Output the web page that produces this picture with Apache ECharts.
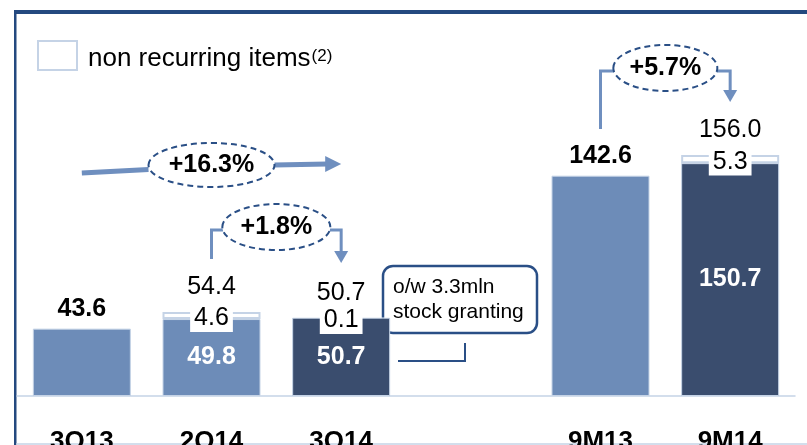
<!DOCTYPE html>
<html>
<head>
<meta charset="utf-8">
<script src="https://cdn.jsdelivr.net/npm/echarts@6/dist/echarts.min.js"></script>
<style>
  html, body { margin: 0; padding: 0; background: #fff; }
  #chart { width: 807px; height: 445px; }
</style>
</head>
<body>
<div id="chart"></div>
<script>
// data
const categories = ['3Q13', '2Q14', '3Q14', '', '9M13', '9M14'];
const recurring = [43.6, 49.8, 50.7, null, 142.6, 150.7];
const nonRecurring = [null, 4.6, 0.1, null, null, 5.3];
const totals = [43.6, 54.4, 50.7, null, 142.6, 156.0];
const growthLabels = ['+16.3%', '+1.8%', '+5.7%'];
const calloutLines = ['o/w 3.3mln', 'stock granting'];
const currentPeriods = ['3Q14', '9M14'];

const FONT = '"Liberation Sans", Arial, sans-serif';
const LIGHT = '#6d8cb8';
const DARK = '#3a4d6e';
const PALE = '#c5d3e6';
const NAVY = '#2a4f86';
const ARROW = '#6f8fbf';

const chart = echarts.init(document.getElementById('chart'));

const recurringData = recurring.map((v, i) => ({
  value: v,
  itemStyle: { color: currentPeriods.includes(categories[i]) ? DARK : LIGHT },
  label: { show: nonRecurring[i] != null }
}));

const nonRecurringData = nonRecurring.map(v => ({
  value: v,
  itemStyle: { borderWidth: v != null && v >= 1 ? 2 : 0 }
}));

const totalsData = totals.map((v, i) => {
  const hasNr = nonRecurring[i] != null;
  return {
    value: v,
    label: {
      fontWeight: hasNr ? 'normal' : 'bold',
      distance: hasNr ? 12 : 7
    }
  };
});

chart.setOption({
  animation: false,
  textStyle: { fontFamily: FONT },
  grid: { left: 17, right: 12, top: 87, bottom: 49, containLabel: false, outerBoundsMode: 'none' },
  legend: {
    left: 37,
    top: 40,
    padding: 0,
    itemWidth: 39,
    itemHeight: 29,
    itemGap: 0,
    icon: 'rect',
    data: ['non recurring items'],
    itemStyle: { color: '#fff', borderColor: PALE, borderWidth: 2 },
    formatter: name => '{a|' + name + '}{s|(2)}',
    textStyle: {
      padding: [6, 0, 0, 6],
      rich: {
        a: { fontSize: 26, color: '#000', fontFamily: FONT },
        s: { fontSize: 17, color: '#000', fontFamily: FONT, verticalAlign: 'top', padding: [2, 0, 0, 1] }
      }
    }
  },
  xAxis: {
    type: 'category',
    data: categories,
    axisLine: { lineStyle: { color: PALE, width: 1.5 } },
    axisTick: { show: false },
    axisLabel: { margin: 33, fontSize: 26, fontWeight: 'bold', color: '#000', fontFamily: FONT }
  },
  yAxis: { type: 'value', min: 0, max: 200, show: false },
  series: [
    {
      name: 'recurring',
      type: 'bar',
      stack: 'cost',
      barWidth: 98,
      data: recurringData,
      itemStyle: { borderColor: PALE, borderWidth: 1 },
      label: {
        position: 'inside',
        color: '#fff',
        fontSize: 25,
        fontWeight: 'bold',
        fontFamily: FONT
      }
    },
    {
      name: 'non recurring items',
      type: 'bar',
      stack: 'cost',
      barWidth: 98,
      data: nonRecurringData,
      itemStyle: { color: '#fff', borderColor: PALE, borderWidth: 2 },
      label: {
        show: true,
        position: 'inside',
        offset: [0, 3],
        color: '#000',
        fontSize: 25,
        fontFamily: FONT,
        backgroundColor: '#fff',
        padding: [1, 4]
      }
    },
    {
      name: 'total',
      type: 'scatter',
      data: totalsData,
      symbolSize: 1,
      itemStyle: { color: 'rgba(0,0,0,0)', opacity: 1 },
      z: 5,
      label: {
        show: true,
        position: 'top',
        color: '#000',
        fontSize: 25,
        fontFamily: FONT,
        formatter: p => p.value.toFixed(1)
      }
    }
  ]
});

// annotations placed from the category positions
const cx = i => chart.convertToPixel({ xAxisIndex: 0 }, i);

function ellipse(x, y, rx, ry, text) {
  return [
    {
      type: 'ellipse',
      shape: { cx: x, cy: y, rx: rx, ry: ry },
      style: { fill: '#fff', stroke: NAVY, lineWidth: 2, lineDash: [6, 4] }
    },
    {
      type: 'text',
      x: x, y: y,
      style: {
        text: text, fill: '#000', font: 'bold 25px ' + FONT,
        align: 'center', verticalAlign: 'middle'
      }
    }
  ];
}

function downArrow(x, y) {
  return {
    type: 'polygon',
    shape: { points: [[x - 7, y - 12], [x + 7, y - 12], [x, y]] },
    style: { fill: ARROW }
  };
}

function bracket(xa, xb, level, startY, tipY, rx, text) {
  const mid = (xa + xb) / 2;
  return [
    {
      type: 'polyline',
      shape: { points: [[xa, startY], [xa, level], [mid - rx + 1, level]] },
      style: { stroke: ARROW, lineWidth: 3, fill: null }
    },
    {
      type: 'polyline',
      shape: { points: [[mid + rx - 1, level], [xb, level], [xb, tipY - 11]] },
      style: { stroke: ARROW, lineWidth: 3, fill: null }
    },
    downArrow(xb, tipY)
  ].concat(ellipse(mid, level - 3, rx, 23, text));
}

const x0 = cx(0), x1 = cx(1), x2 = cx(2), x4 = cx(4), x5 = cx(5);
const mid02 = (x0 + x2) / 2;

const graphics = [
  // slide frame
  { type: 'rect', shape: { x: 14, y: 10, width: 793, height: 4 }, style: { fill: '#24497f' } },
  { type: 'rect', shape: { x: 14, y: 10, width: 2.5, height: 435 }, style: { fill: '#24497f' } },
  { type: 'line', shape: { x1: 16, y1: 444, x2: 807, y2: 444 }, style: { stroke: PALE, lineWidth: 1.5 } },

  // +16.3% arrow
  { type: 'line', shape: { x1: x0, y1: 173, x2: mid02 - 63, y2: 169.5 }, style: { stroke: ARROW, lineWidth: 5 } },
  { type: 'line', shape: { x1: mid02 + 63, y1: 165, x2: x2 - 14, y2: 164 }, style: { stroke: ARROW, lineWidth: 5 } },
  { type: 'polygon', shape: { points: [[x2 - 16, 156], [x2, 164], [x2 - 16, 172]] }, style: { fill: ARROW } },

  // callout
  {
    type: 'rect',
    shape: { x: 383, y: 266, width: 154, height: 67, r: 10 },
    style: { fill: '#fff', stroke: NAVY, lineWidth: 2.5 }
  },
  { type: 'text', x: 393, y: 287, style: { text: calloutLines[0], fill: '#000', font: '21px ' + FONT, verticalAlign: 'middle' } },
  { type: 'text', x: 393, y: 312, style: { text: calloutLines[1], fill: '#000', font: '21px ' + FONT, verticalAlign: 'middle' } },
  {
    type: 'polyline',
    shape: { points: [[398, 361], [465, 361], [465, 343]] },
    style: { stroke: NAVY, lineWidth: 2, fill: null }
  }
]
  .concat(ellipse(mid02, 165, 63, 22, growthLabels[0]))
  .concat(bracket(x1, x2, 230, 259, 263, 54, growthLabels[1]))
  .concat(bracket(x4, x5, 71, 129, 102, 52, growthLabels[2]));

chart.setOption({ graphic: graphics });
</script>
</body>
</html>
